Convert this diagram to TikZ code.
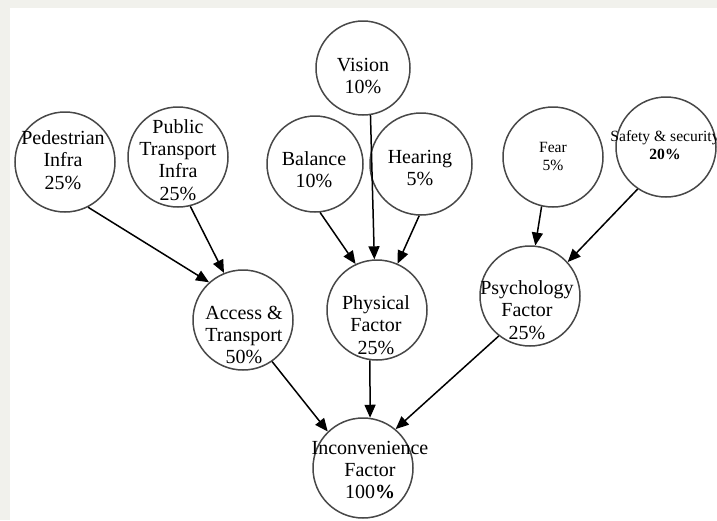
\documentclass[tikz,border=0pt]{standalone}
\usepackage{fontspec}
\setmainfont{Liberation Serif}
\usetikzlibrary{arrows.meta}
\definecolor{strip}{RGB}{241,241,236}
\definecolor{ring}{RGB}{72,72,72}
\begin{document}
\begin{tikzpicture}[x=0.5pt,y=-0.5pt,
  factor/.style={circle,draw=ring,line width=0.75pt,minimum size=50pt,inner sep=0pt},
  lbl/.style={align=center,font=\fontsize{10}{11.1}\selectfont,inner sep=0pt},
  small/.style={align=center,font=\fontsize{7.8}{9}\selectfont,inner sep=0pt},
  link/.style={draw=black,line width=0.75pt,-{Triangle[length=6.5pt,width=5.5pt]}}]
\useasboundingbox (0,0) rectangle (717,520);
% page background with the grey margin strips
\fill[white] (0,0) rectangle (717,520);
\fill[strip] (0,0) rectangle (10,520);
\fill[strip] (0,0) rectangle (717,8);

% circles
\node[factor] (ped)  at (65,162)  {};
\node[factor] (pub)  at (178,157) {};
\node[factor, minimum size=47pt] (vis) at (363,68) {};
\node[factor, minimum size=48pt] (bal) at (315,164) {};
\node[factor, minimum size=51pt] (hea) at (421,164) {};
\node[factor] (fear) at (553,157) {};
\node[factor] (safe) at (666,147) {};
\node[factor] (acc)  at (243,320) {};
\node[factor] (phy)  at (377,310) {};
\node[factor] (psy)  at (530,296) {};
\node[factor] (inc)  at (363,468) {};

% labels
\node[lbl] (tped)  at (63,160)  {Pedestrian\\Infra\\25\%};
\node[lbl] (tpub)  at (178,160) {Public\\Transport\\Infra\\25\%};
\node[lbl] (tvis)  at (363,76)  {Vision\\10\%};
\node[lbl] (tbal)  at (314,170) {Balance\\10\%};
\node[lbl] (thea)  at (420,168) {Hearing\\5\%};
\node[small] (tfear) at (553,156) {Fear\\5\%};
\node[small] (tsafe) at (665,145) {Safety \& security\\\textbf{20\%}};
\node[lbl] (tacc)  at (244,335) {Access \&\\Transport\\50\%};
\node[lbl] (tphy)  at (376,325) {Physical\\Factor\\25\%};
\node[lbl] (tpsy)  at (527,310) {Psychology\\Factor\\25\%};
\node[lbl] (tinc)  at (370,470) {Inconvenience\\Factor\\100\textbf{\%}};

% connectors
\draw[link] (ped.-63)   -- (acc.132);
\draw[link] (pub.-76)   -- (acc.112);
\draw[link] (bal.-84)   -- (phy.115);
\draw[link] (vis.-81.5) -- (phy.93);
\draw[link] (hea.-92)   -- (phy.66);
\draw[link] (fear.-103) -- (psy.84);
\draw[link] (safe.-124) -- (psy.42);
\draw[link] (acc.-55)   -- (inc.134);
\draw[link] (phy.-98)   -- (inc.82);
\draw[link] (psy.-128)  -- (inc.50);
\end{tikzpicture}
\end{document}
